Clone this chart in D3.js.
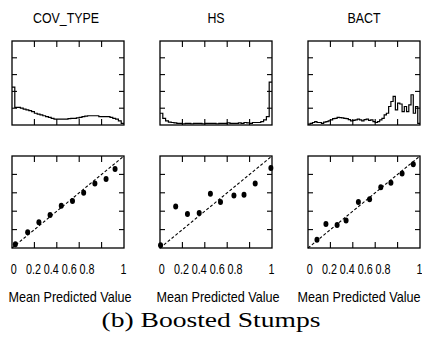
<!DOCTYPE html>
<html><head><meta charset="utf-8">
<script src="https://cdn.jsdelivr.net/npm/d3@7/dist/d3.min.js"></script>
<style>
html,body{margin:0;padding:0;background:#fff;}
svg{display:block;}
text{fill:#000;}
</style></head>
<body><svg id="chart" width="422" height="337"></svg>
<script>
// ---- data ----
const panelNames = ["COV_TYPE", "HS", "BACT"];
const xTicks = [0.2, 0.4, 0.6, 0.8];
const yTicks = [0.2, 0.4, 0.6, 0.8];
const tickLabels = ["0", "0.2", "0.4", "0.6", "0.8", "1"];
const tickLabelValues = [0, 0.2, 0.4, 0.6, 0.8, 1];
const xAxisTitle = "Mean Predicted Value";
const caption = "(b) Boosted Stumps";

// histograms of predicted values (relative height, equal-width bins over [0,1])
const histCovType = [0.45,0.21,0.21,0.20,0.19,0.18,0.17,0.16,0.14,0.13,0.12,0.11,0.10,0.09,0.08,0.07,0.07,0.07,0.07,0.07,
  0.075,0.08,0.08,0.085,0.09,0.10,0.105,0.11,0.11,0.11,0.11,0.10,0.10,0.10,0.10,0.09,0.08,0.07,0.05,0.02];
const histHS = [0.14,0.08,0.05,0.035,0.03,0.025,0.02,0.02,0.015,0.02,0.02,0.015,0.02,0.02,0.02,0.015,0.02,0.02,0.02,0.02,
  0.015,0.02,0.02,0.02,0.025,0.02,0.02,0.02,0.025,0.02,0.03,0.025,0.02,0.03,0.03,0.03,0.04,0.06,0.10,0.51];
const histBACT = [0.01,0.02,0.03,0.04,0.03,0.03,0.02,0.035,0.04,0.05,0.06,0.075,0.08,0.09,0.087,0.085,0.08,0.075,0.065,0.05,
  0.055,0.06,0.07,0.06,0.05,0.065,0.07,0.055,0.06,0.04,0.03,0.04,0.06,0.08,0.12,0.14,0.22,0.28,0.34,0.18,
  0.26,0.25,0.16,0.22,0.16,0.24,0.36,0.14,0.22,0.02];

// calibration points: mean predicted value (x) vs fraction of positives (y)
const calCovTypeX = [0.03,0.14,0.24,0.34,0.44,0.54,0.64,0.74,0.84,0.92];
const calCovTypeY = [0.04,0.17,0.28,0.36,0.46,0.51,0.60,0.70,0.75,0.86];
const calHSX = [0.005,0.14,0.245,0.35,0.45,0.54,0.66,0.75,0.85,0.99];
const calHSY = [0.03,0.45,0.37,0.38,0.59,0.50,0.57,0.58,0.70,0.87];
const calBACTX = [0.08,0.16,0.26,0.34,0.45,0.55,0.65,0.74,0.84,0.94];
const calBACTY = [0.09,0.26,0.25,0.30,0.50,0.53,0.66,0.71,0.81,0.91];

const hists = [histCovType, histHS, histBACT];
const calX = [calCovTypeX, calHSX, calBACTX];
const calY = [calCovTypeY, calHSY, calBACTY];

// ---- layout ----
const svg = d3.select("#chart");
const panelW = 112, panelStep = 148, firstLeft = 12;
const topY0 = 41, topY1 = 125;
const botY0 = 156, botY1 = 248;
const tickLen = 6;
const SANS = "'Liberation Sans', Arial, Helvetica, sans-serif";

function drawFrame(g, x, y) {
  const [xa, xb] = x.range(), [yb, ya] = y.range();
  g.append("rect").attr("x", xa).attr("y", ya).attr("width", xb - xa).attr("height", yb - ya)
    .attr("fill", "none").attr("stroke", "#000").attr("stroke-width", 1.3);
  xTicks.forEach(t => {
    const px = x(t);
    g.append("line").attr("x1", px).attr("x2", px).attr("y1", ya).attr("y2", ya + tickLen).attr("stroke", "#000").attr("stroke-width", 1.1);
    g.append("line").attr("x1", px).attr("x2", px).attr("y1", yb).attr("y2", yb - tickLen).attr("stroke", "#000").attr("stroke-width", 1.1);
  });
  yTicks.forEach(t => {
    const py = y(t);
    g.append("line").attr("y1", py).attr("y2", py).attr("x1", xa).attr("x2", xa + 5).attr("stroke", "#000").attr("stroke-width", 1.1);
    g.append("line").attr("y1", py).attr("y2", py).attr("x1", xb).attr("x2", xb - 5).attr("stroke", "#000").attr("stroke-width", 1.1);
  });
}

function narrowText(g, str, x, y, size, sx) {
  g.append("text").attr("transform", `translate(${x},${y}) scale(${sx},1)`)
    .attr("text-anchor", "middle").style("font-family", SANS).style("font-size", size + "px").text(str);
}

panelNames.forEach((name, i) => {
  const left = firstLeft + i * panelStep;
  const g = svg.append("g");
  const x = d3.scaleLinear().domain([0, 1]).range([left, left + panelW]);
  const yTop = d3.scaleLinear().domain([0, 1]).range([topY1, topY0]);
  const yBot = d3.scaleLinear().domain([0, 1]).range([botY1, botY0]);

  // title
  narrowText(g, name, left + panelW / 2 - (i === 0 ? 2 : 0), 22.5, 15.5, 0.8);

  // histogram (step line)
  const h = hists[i], n = h.length;
  const pts = h.map((v, k) => [k / n, v]);
  pts.push([1, h[n - 1]]);
  const clipId = "clip" + i;
  svg.append("clipPath").attr("id", clipId).append("rect")
    .attr("x", left).attr("y", topY0).attr("width", panelW).attr("height", topY1 - topY0);
  g.append("path").attr("clip-path", `url(#${clipId})`)
    .attr("d", d3.line().x(d => x(d[0])).y(d => yTop(d[1])).curve(d3.curveStepAfter)(pts))
    .attr("fill", "none").attr("stroke", "#000").attr("stroke-width", 1.2);
  drawFrame(g, x, yTop);

  // calibration
  g.append("line").attr("x1", x(0)).attr("y1", yBot(0)).attr("x2", x(1)).attr("y2", yBot(1))
    .attr("stroke", "#000").attr("stroke-width", 1.1).attr("stroke-dasharray", "3,2");
  g.selectAll("ellipse.pt").data(calX[i].map((v, k) => [v, calY[i][k]])).enter().append("ellipse")
    .attr("cx", d => x(d[0])).attr("cy", d => yBot(d[1])).attr("rx", 2.5).attr("ry", 3).attr("fill", "#000");
  drawFrame(g, x, yBot);

  // tick labels (compressed spacing as in the original)
  const lab = d3.scaleLinear().domain([0, 0.2, 0.8, 1]).range([left + 1.7, left + 21.5, left + 75, left + 111.5]);
  tickLabels.forEach((t, k) => narrowText(g, t, lab(tickLabelValues[k]), 274, 15, 0.72));

  const titleX = Math.min(left + panelW / 2 + 2, 421 - 62);
  narrowText(g, xAxisTitle, titleX, 302, 14.5, 0.87);
});

svg.append("text").attr("x", 211).attr("y", 327).attr("text-anchor", "middle")
  .style("font-family", "'Liberation Serif','DejaVu Serif',serif").style("font-size", "21px")
  .attr("textLength", 219).attr("lengthAdjust", "spacingAndGlyphs").text(caption);
</script></body></html>
